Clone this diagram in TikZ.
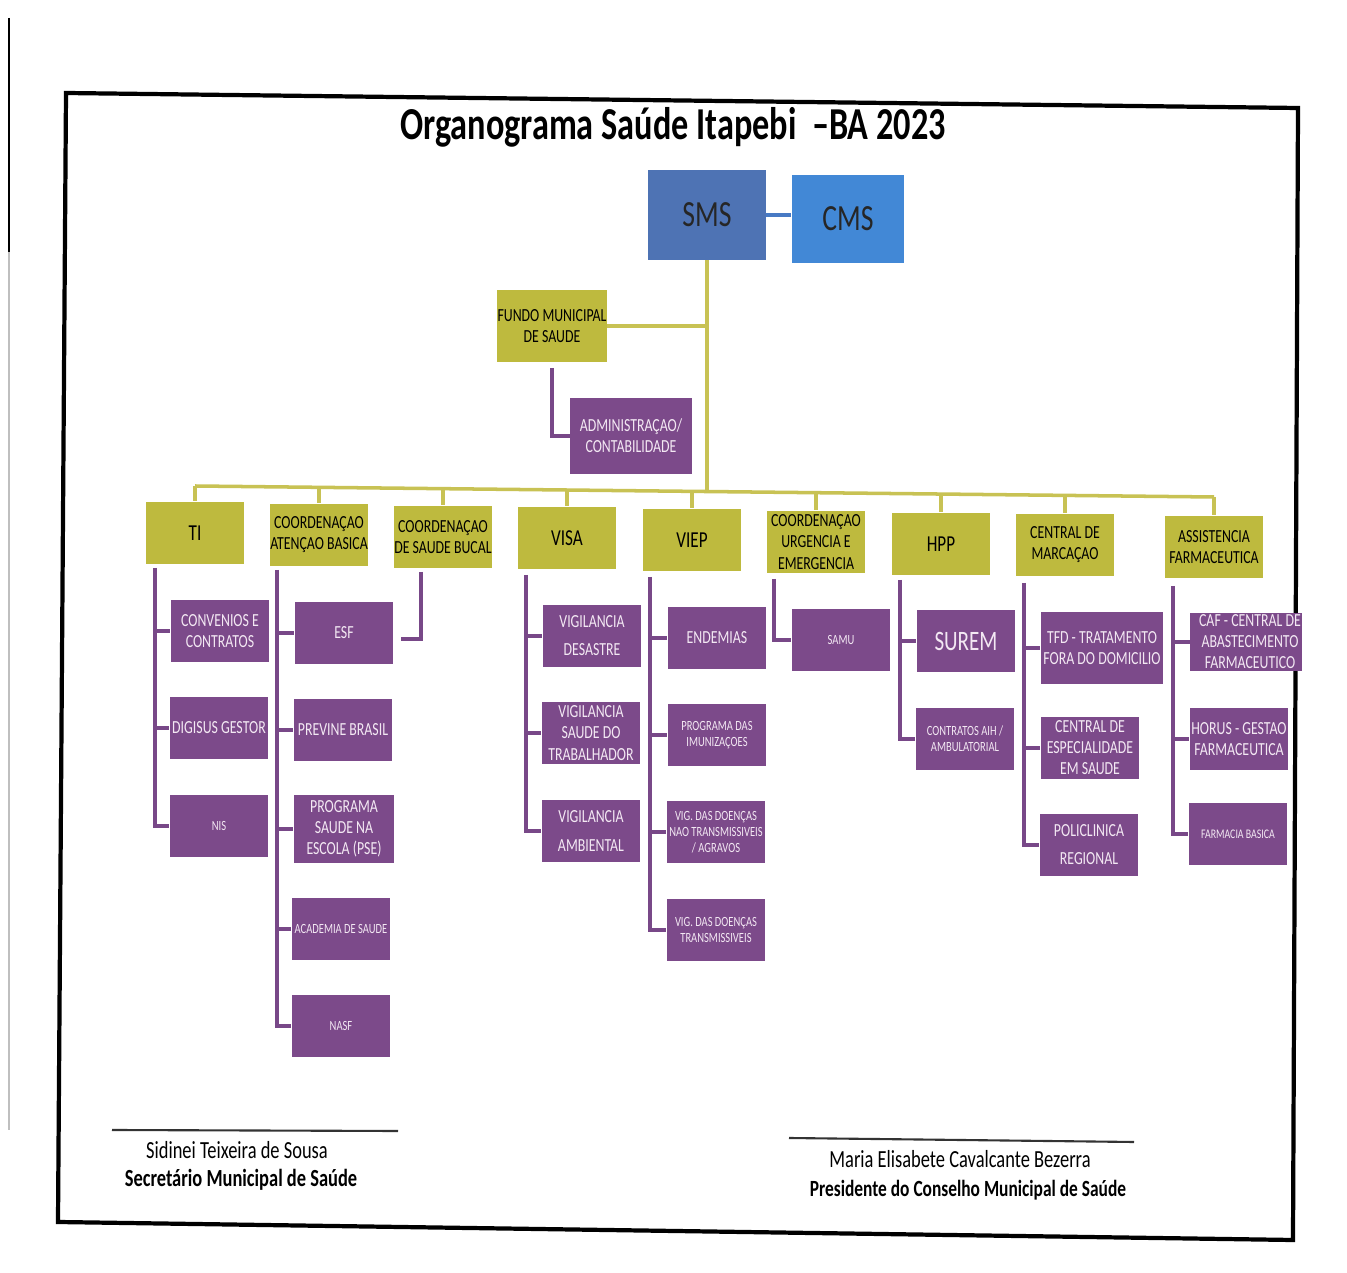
\documentclass[tikz,border=0pt]{standalone}
\usepackage{fontspec}
\setmainfont{Carlito}[FakeStretch=0.75]
\usetikzlibrary{calc}
\definecolor{oliveBox}{RGB}{190,186,62}
\definecolor{oliveLine}{RGB}{200,194,84}
\definecolor{purpBox}{RGB}{124,74,138}
\definecolor{purpLine}{RGB}{120,72,136}
\definecolor{purpText}{RGB}{243,232,243}
\definecolor{smsBlue}{RGB}{78,115,180}
\definecolor{cmsBlue}{RGB}{66,136,214}
\definecolor{linkBlue}{RGB}{72,122,196}
\begin{document}
\begin{tikzpicture}[x=0.02cm,y=-0.02cm,
  box/.style={align=center, inner sep=0pt, minimum width=1.98cm, minimum height=1.26cm},
  obox/.style={box, fill=oliveBox, text=black, font=\fontsize{10.5}{12}\selectfont},
  pbox/.style={box, fill=purpBox, text=purpText, font=\fontsize{10.5}{12}\selectfont},
  smalltxt/.style={font=\fontsize{8}{9}\selectfont},
  bigtxt/.style={font=\fontsize{13}{15}\selectfont},
  oline/.style={draw=oliveLine, line width=2pt},
  pline/.style={draw=purpLine, line width=2pt},
  sig/.style={font=\fontsize{14}{16}\selectfont},
  sigb/.style={font=\bfseries\fontsize{14}{16}\selectfont}]
\useasboundingbox (0,0) rectangle (1347,1273);
\fill[white] (0,0) rectangle (1347,1273);
% scan edge
\draw[line width=1.6pt, black] (9,18) -- (9,252);
\draw[line width=0.6pt, black!25] (9,252) -- (9,1130);
% frame
\draw[line width=2.4pt] (66,93) -- (1298,108) -- (1293,1240) -- (58,1222) -- cycle;

% title
\node[font=\bfseries\fontsize{26}{28}\selectfont] (title) at (673,127) {Organograma Saúde Itapebi\ \ –BA 2023};

% top
\node[box, fill=smsBlue, minimum width=2.36cm, minimum height=1.8cm, font=\fontsize{21}{23}\selectfont, text=black!85] (sms) at (707,215) {SMS};
\node[box, fill=cmsBlue, minimum width=2.26cm, minimum height=1.76cm, font=\fontsize{21}{23}\selectfont, text=black!85] (cms) at (848,219) {CMS};
\draw[draw=linkBlue, line width=2.6pt] (sms.east) -- (sms.east -| cms.west);

\node[obox, minimum width=2.2cm, minimum height=1.44cm] (fundo) at (552,326) {FUNDO MUNICIPAL\\DE SAUDE};
\node[pbox, minimum width=2.44cm, minimum height=1.52cm] (admin) at (631,436) {ADMINISTRAÇAO/\\CONTABILIDADE};

% level 1
\node[obox, bigtxt] (ti) at (195,533) {TI};
\node[obox] (ab) at (319,535) {COORDENAÇAO\\ATENÇAO BASICA};
\node[obox] (sb) at (443,537) {COORDENAÇAO\\DE SAUDE BUCAL};
\node[obox, bigtxt] (visa) at (567,538) {VISA};
\node[obox, bigtxt] (viep) at (692,540) {VIEP};
\node[obox] (urg) at (816,542) {COORDENAÇAO\\URGENCIA E\\EMERGENCIA};
\node[obox, bigtxt] (hpp) at (941,544) {HPP};
\node[obox] (cm) at (1065,545) {CENTRAL DE\\MARCAÇAO};
\node[obox] (af) at (1214,547) {ASSISTENCIA\\FARMACEUTICA};

% bus coordinates
\coordinate (bti) at (195,486);
\coordinate (bab) at (319,487.3);
\coordinate (bsb) at (443,488.7);
\coordinate (bvisa) at (567,490);
\coordinate (bviep) at (692,491.3);
\coordinate (bsms) at (707,491.5);
\coordinate (burg) at (816,492.7);
\coordinate (bhpp) at (941,494);
\coordinate (bcm) at (1065,495.4);
\coordinate (baf) at (1214,497);

\draw[oline] (sms.south) -- (bsms);
\draw[oline] (fundo.east) -- (fundo.east -| sms.south);
\draw[oline] (bti) -- (baf);
\foreach \n in {ti,ab,sb,visa,viep,urg,hpp,cm,af}
  \draw[oline] (b\n) -- (\n.north);

\coordinate (fundoL) at (552,368);
\draw[pline] (fundoL) |- (admin.west);

% TI children
\node[pbox] (conv) at (220,631) {CONVENIOS E\\CONTRATOS};
\node[pbox] (digi) at (219,728) {DIGISUS GESTOR};
\node[pbox, smalltxt] (nis) at (219,826) {NIS};
\coordinate (tiL) at (155,568);
\draw[pline] (tiL) |- (nis.west);
\draw[pline] (tiL |- conv.west) -- (conv.west);
\draw[pline] (tiL |- digi.west) -- (digi.west);

% Atencao basica children
\node[pbox] (esf) at (344,633) {ESF};
\node[pbox] (prev) at (343,730) {PREVINE BRASIL};
\node[pbox, minimum width=2.02cm, minimum height=1.38cm] (pse) at (344,829) {PROGRAMA\\SAUDE NA\\ESCOLA (PSE)};
\node[pbox, smalltxt] (acad) at (341,929) {ACADEMIA DE SAUDE};
\node[pbox, smalltxt] (nasf) at (341,1026) {NASF};
\coordinate (abL) at (277,570);
\draw[pline] (abL) |- (nasf.west);
\foreach \n in {esf,prev,pse,acad}
  \draw[pline] (abL |- \n.west) -- (\n.west);

% Saude bucal (free connector)
\coordinate (sbTop) at (421,572);
\coordinate (sbEnd) at (401,639);
\draw[pline] (sbTop) |- (sbEnd);

% VISA children
\node[pbox] (vdes) at (592,636) {VIGILANCIA\\[4pt]DESASTRE};
\node[pbox] (vtrab) at (591,733) {VIGILANCIA\\SAUDE DO\\TRABALHADOR};
\node[pbox] (vamb) at (591,831) {VIGILANCIA\\[4pt]AMBIENTAL};
\coordinate (visaL) at (526,575);
\draw[pline] (visaL) |- (vamb.west);
\foreach \n in {vdes,vtrab}
  \draw[pline] (visaL |- \n.west) -- (\n.west);

% VIEP children
\node[pbox] (endm) at (717,638) {ENDEMIAS};
\node[pbox, smalltxt] (imun) at (717,735) {PROGRAMA DAS\\IMUNIZAÇOES};
\node[pbox, smalltxt] (vnt) at (716,832) {VIG. DAS DOENÇAS\\NAO TRANSMISSIVEIS\\/ AGRAVOS};
\node[pbox, smalltxt] (vtr) at (716,930) {VIG. DAS DOENÇAS\\TRANSMISSIVEIS};
\coordinate (viepL) at (650,577);
\draw[pline] (viepL) |- (vtr.west);
\foreach \n in {endm,imun,vnt}
  \draw[pline] (viepL |- \n.west) -- (\n.west);

% Urgencia
\node[pbox, smalltxt] (samu) at (841,640) {SAMU};
\coordinate (urgL) at (774,579);
\draw[pline] (urgL) |- (samu.west);

% HPP
\node[pbox, font=\fontsize{16}{18}\selectfont] (surem) at (966,641) {SUREM};
\node[pbox, smalltxt] (aih) at (965,739) {CONTRATOS AIH /\\AMBULATORIAL};
\coordinate (hppL) at (900,580);
\draw[pline] (hppL) |- (aih.west);
\draw[pline] (hppL |- surem.west) -- (surem.west);

% Central de marcacao
\node[pbox, minimum width=2.46cm, minimum height=1.44cm] (tfd) at (1102,648) {TFD - TRATAMENTO\\FORA DO DOMICILIO};
\node[pbox] (cesp) at (1090,748) {CENTRAL DE\\ESPECIALIDADE\\EM SAUDE};
\node[pbox] (poli) at (1089,845) {POLICLINICA\\[4pt]REGIONAL};
\coordinate (cmL) at (1024,583);
\draw[pline] (cmL) |- (poli.west);
\foreach \n in {tfd,cesp}
  \draw[pline] (cmL |- \n.west) -- (\n.west);

% Assistencia farmaceutica
\node[box, fill=purpBox, minimum width=2.24cm, minimum height=1.16cm] (caf) at (1246,642) {};
\begin{scope}
  \clip (caf.south west) rectangle (caf.north east);
  \node[text=purpText, align=center, font=\fontsize{10.5}{12}\selectfont, inner sep=0pt] (caftxt) at (1250,642) {CAF - CENTRAL DE\\ABASTECIMENTO\\FARMACEUTICO};
\end{scope}
\node[pbox] (horus) at (1239,739) {HORUS - GESTAO\\FARMACEUTICA};
\node[pbox, font=\fontsize{7.5}{9}\selectfont] (farm) at (1238,834) {FARMACIA BASICA};
\coordinate (afL) at (1173,586);
\draw[pline] (afL) |- (farm.west);
\foreach \n in {caf,horus}
  \draw[pline] (afL |- \n.west) -- (\n.west);

% signatures
\draw[line width=1.2pt, black!80] (112,1130) -- (398,1131);
\node[sig] (sig1a) at (237,1150) {Sidinei Teixeira de Sousa};
\node[sigb] (sig1b) at (241,1180) {Secretário Municipal de Saúde};
\draw[line width=1.2pt, black!80] (789,1138) -- (1134,1142);
\node[sig] (sig2a) at (960,1159) {Maria Elisabete Cavalcante Bezerra};
\node[sigb, font=\bfseries\fontsize{13.2}{15}\selectfont] (sig2b) at (968,1190) {Presidente do Conselho Municipal de Saúde};
\end{tikzpicture}
\end{document}
